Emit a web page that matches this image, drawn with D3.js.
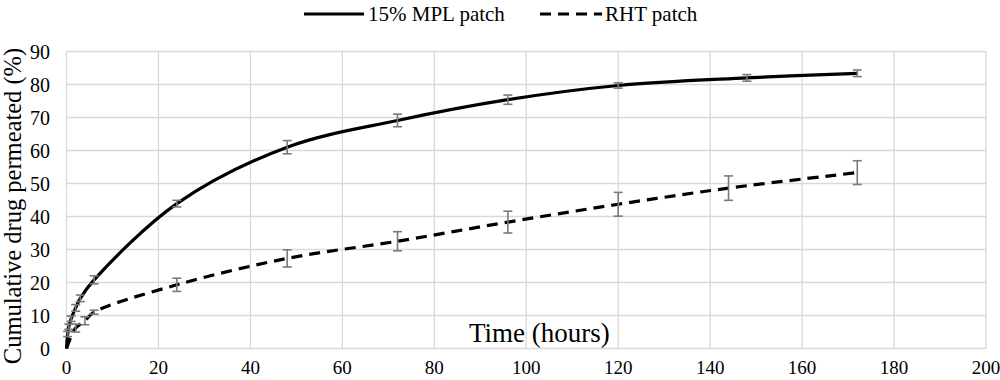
<!DOCTYPE html>
<html>
<head>
<meta charset="utf-8">
<script src="https://cdn.jsdelivr.net/npm/d3@7"></script>
<style>
  html, body { margin: 0; padding: 0; background: #fff; }
  svg { display: block; }
  text { font-family: "Liberation Serif", "Times New Roman", serif; fill: #000; }
</style>
</head>
<body>
<svg id="chart" width="1000" height="380"></svg>
<script>
// ---- data ----
const seriesNames = ["15% MPL patch", "RHT patch"];
const mplTime  = [0, 0.25, 0.5, 1, 2, 3, 6, 24, 48, 72, 96, 120, 148, 172];
const mplValue = [0, 4.4, 6.6, 9.0, 12.3, 15.2, 20.8, 43.9, 61.0, 69.1, 75.4, 79.7, 82.0, 83.4];
const mplError = [0, 0.8, 0.8, 0.8, 1.0, 1.0, 1.2, 1.0, 2.0, 1.9, 1.4, 0.8, 1.0, 1.0];
const rhtTime  = [0, 2, 4, 6, 24, 48, 72, 96, 120, 144, 172];
const rhtValue = [0, 6.2, 8.4, 11.0, 19.3, 27.3, 32.5, 38.3, 43.7, 48.6, 53.3];
const rhtError = [0, 1.2, 1.2, 0.6, 2.0, 2.6, 2.9, 3.3, 3.6, 3.7, 3.6];
const xTicks = [0, 20, 40, 60, 80, 100, 120, 140, 160, 180, 200];
const yTicks = [0, 10, 20, 30, 40, 50, 60, 70, 80, 90];
const xTitle = "Time (hours)";
const yTitle = "Cumulative drug permeated (%)";

const svg = d3.select("#chart");
const x = d3.scaleLinear().domain([0, 200]).range([66.5, 986]);
const y = d3.scaleLinear().domain([0, 90]).range([348.5, 51.5]);

// gridlines
svg.append("g").selectAll("line.h").data(yTicks).join("line")
  .attr("x1", x(0)).attr("x2", x(200))
  .attr("y1", d => y(d)).attr("y2", d => y(d))
  .attr("stroke", "#d9d9d9").attr("stroke-width", 1.3);
svg.append("g").selectAll("line.v").data(xTicks).join("line")
  .attr("x1", d => x(d)).attr("x2", d => x(d))
  .attr("y1", y(0)).attr("y2", y(90))
  .attr("stroke", "#d9d9d9").attr("stroke-width", 1.3);

// tick labels
svg.append("g").selectAll("text").data(yTicks).join("text")
  .attr("x", 50).attr("y", d => y(d) + 7)
  .attr("text-anchor", "end").attr("font-size", 20)
  .text(d => d);
svg.append("g").selectAll("text").data(xTicks).join("text")
  .attr("x", d => x(d)).attr("y", 374)
  .attr("text-anchor", "middle").attr("font-size", 19)
  .text(d => d);

// axis titles
svg.append("text").attr("x", 469).attr("y", 342)
  .attr("font-size", 27).text(xTitle);
svg.append("text").attr("transform", "translate(21,206) rotate(-90)")
  .attr("text-anchor", "middle").attr("font-size", 24.5).text(yTitle);

// error bars
function errorBars(t, v, e) {
  const g = svg.append("g");
  const data = t.map((d, i) => ({t: d, v: v[i], e: e[i]})).filter(d => d.e > 0);
  g.selectAll("line.stem").data(data).join("line")
    .attr("x1", d => x(d.t)).attr("x2", d => x(d.t))
    .attr("y1", d => y(d.v - d.e)).attr("y2", d => y(d.v + d.e))
    .attr("stroke", "#7a7a7a").attr("stroke-width", 1.6);
  [1, -1].forEach(s => {
    g.selectAll("line.cap" + s).data(data).join("line")
      .attr("x1", d => x(d.t) - 4.5).attr("x2", d => x(d.t) + 4.5)
      .attr("y1", d => y(d.v + s * d.e)).attr("y2", d => y(d.v + s * d.e))
      .attr("stroke", "#7a7a7a").attr("stroke-width", 1.6);
  });
}

const line = d3.line().x(d => x(d[0])).y(d => y(d[1])).curve(d3.curveCatmullRom.alpha(0.5));

svg.append("path").datum(rhtTime.map((t, i) => [t, rhtValue[i]]))
  .attr("d", line).attr("fill", "none").attr("stroke", "#000")
  .attr("stroke-width", 3.2).attr("stroke-dasharray", "11,7");
svg.append("path").datum(mplTime.map((t, i) => [t, mplValue[i]]))
  .attr("d", line).attr("fill", "none").attr("stroke", "#000")
  .attr("stroke-width", 3.2);

errorBars(mplTime, mplValue, mplError);
errorBars(rhtTime, rhtValue, rhtError);

// legend
const leg = svg.append("g");
leg.append("line").attr("x1", 304).attr("x2", 364).attr("y1", 14).attr("y2", 14)
  .attr("stroke", "#000").attr("stroke-width", 3.2);
leg.append("text").attr("x", 368).attr("y", 21).attr("font-size", 21).text(seriesNames[0]);
leg.append("line").attr("x1", 540).attr("x2", 602).attr("y1", 14).attr("y2", 14)
  .attr("stroke", "#000").attr("stroke-width", 3.2).attr("stroke-dasharray", "11,7");
leg.append("text").attr("x", 605).attr("y", 21).attr("font-size", 21).text(seriesNames[1]);
</script>
</body>
</html>
